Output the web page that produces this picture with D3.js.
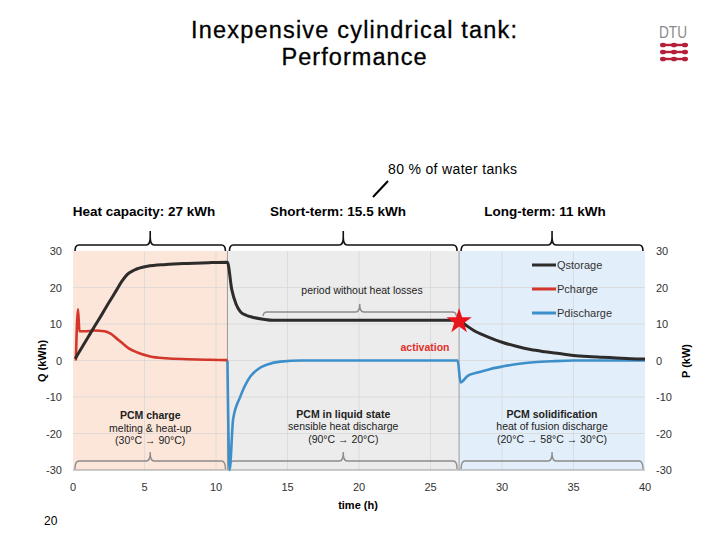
<!DOCTYPE html>
<meta charset="utf-8">
<style>
 body { margin: 0; background: #fff; font-family: 'Liberation Sans', Arial, sans-serif; }
 .tick-label { font-size: 11px; fill: #333; }
</style>
<body>
<script src="https://cdn.jsdelivr.net/npm/d3@7"></script>
<script>

 // data
 var qTime  = [0.15, 0.6, 1, 1.5, 2, 2.5, 3, 3.4, 3.8, 4.3, 5.2, 6.5, 8, 9.5, 10.8, 11.1, 11.4, 11.7, 12.1, 12.6, 13.3, 14, 16, 20, 25, 27, 27.5, 28, 29, 30, 31, 32, 33, 34, 35, 36, 37, 38, 39, 40];
 var qValue = [0.5, 3.4, 6, 9.3, 12.5, 15.8, 19, 21.6, 23.6, 24.8, 25.8, 26.3, 26.6, 26.8, 26.9, 19.5, 15.5, 13.4, 12.4, 11.8, 11.3, 11, 11, 11, 11, 11, 9.6, 8.3, 6.5, 5, 3.9, 3, 2.4, 1.9, 1.4, 1.1, 0.9, 0.7, 0.5, 0.4];

 var cTime  = [0.2, 0.35, 0.45, 0.8, 1.5, 2.2, 2.6, 3.0, 3.4, 3.9, 4.5, 5.4, 6.5, 8, 9.5, 10.8];
 var cValue = [0, 14, 8, 8, 8.2, 8, 7.4, 6.2, 4.9, 3.3, 2.2, 1.1, 0.6, 0.35, 0.2, 0.1];

 var dTime  = [10.8, 10.95, 11.2, 11.7, 12.4, 13, 13.6, 14.5, 16, 26.9, 27.1, 27.6, 28.3, 29.2, 30.1, 31.2, 32.2, 33.5, 35, 40];
 var dValue = [0, -30, -16, -9.9, -4.4, -2.2, -1.1, -0.3, 0, 0, -6, -4.2, -3.3, -2.3, -1.6, -0.9, -0.5, -0.2, 0, 0];

 var phases      = [[0, 10.8], [10.8, 27], [27, 40]];
 var phaseFills  = ["#fce6d9", "#ececec", "#e2eef9"];
 var phaseTitles = ["Heat capacity: 27 kWh", "Short-term: 15.5 kWh", "Long-term: 11 kWh"];
 var phaseNotes  = [
     ["PCM charge", "melting & heat-up", "(30°C \u2192 90°C)"],
     ["PCM in liquid state", "sensible heat discharge", "(90°C \u2192 20°C)"],
     ["PCM solidification", "heat of fusion discharge", "(20°C \u2192 58°C \u2192 30°C)"]
 ];
 var xTicks = [0, 5, 10, 15, 20, 25, 30, 35, 40];
 var yTicks = [-30, -20, -10, 0, 10, 20, 30];
 var seriesNames  = ["Qstorage", "Pcharge", "Pdischarge"];
 var seriesColors = ["#2e2b2b", "#d3362b", "#3d8fcb"];

 var W = 720, H = 540;
 var svg = d3.select("body").append("svg").attr("width", W).attr("height", H);

 var xScale = d3.scaleLinear().domain([0, 40]).range([73, 645]);
 var yScale = d3.scaleLinear().domain([-30, 30]).range([470, 251]);

 // title
 svg.append("text").attr("x", 354).attr("y", 38).attr("text-anchor", "middle")
    .attr("font-size", "23.5px").attr("textLength", 326).attr("lengthAdjust", "spacing")
    .attr("stroke", "#000").attr("stroke-width", 0.3).text("Inexpensive cylindrical tank:");
 svg.append("text").attr("x", 354).attr("y", 65).attr("text-anchor", "middle")
    .attr("font-size", "23.5px").attr("textLength", 145).attr("lengthAdjust", "spacing")
    .attr("stroke", "#000").attr("stroke-width", 0.3).text("Performance");

 // DTU logo
 svg.append("text").attr("x", 673).attr("y", 38).attr("text-anchor", "middle")
    .attr("font-size", "17px").attr("fill", "#8a8a8a").attr("textLength", 28)
    .attr("lengthAdjust", "spacingAndGlyphs").text("DTU");
 [45, 52, 59].forEach(function(y) {
     var g = svg.append("g").attr("fill", "#b51f3a");
     g.append("rect").attr("x", 663).attr("y", y - 1.2).attr("width", 22).attr("height", 2.4);
     [663, 674, 685].forEach(function(cx) {
         g.append("ellipse").attr("cx", cx).attr("cy", y).attr("rx", 3).attr("ry", 2.3);
     });
 });

 // annotation
 svg.append("text").attr("x", 388).attr("y", 174).attr("font-size", "14px")
    .attr("textLength", 129).attr("lengthAdjust", "spacing").text("80 %  of water tanks");
 svg.append("line").attr("x1", 373).attr("y1", 197).attr("x2", 388).attr("y2", 181)
    .attr("stroke", "#000").attr("stroke-width", 2);

 // page number
 svg.append("text").attr("x", 44).attr("y", 525).attr("font-size", "12px").text("20");

 // phase backgrounds
 svg.selectAll(".phase").data(phases).enter().append("rect")
    .attr("x", d => xScale(d[0])).attr("y", yScale(30))
    .attr("width", d => xScale(d[1]) - xScale(d[0]))
    .attr("height", yScale(-30) - yScale(30))
    .attr("fill", (d, i) => phaseFills[i]);

 // gridlines
 var grid = svg.append("g").attr("stroke", "#d8d8d8").attr("stroke-width", 0.8);
 grid.selectAll(".vg").data(xTicks.slice(1, -1)).enter().append("line")
     .attr("x1", d => xScale(d)).attr("x2", d => xScale(d))
     .attr("y1", yScale(30)).attr("y2", yScale(-30));
 grid.selectAll(".hg").data(yTicks.slice(1, -1)).enter().append("line")
     .attr("x1", xScale(0)).attr("x2", xScale(40))
     .attr("y1", d => yScale(d)).attr("y2", d => yScale(d));

 // phase boundaries and axis line
 svg.selectAll(".bound").data([10.8, 27]).enter().append("line")
    .attr("x1", d => xScale(d)).attr("x2", d => xScale(d))
    .attr("y1", yScale(30)).attr("y2", yScale(-30))
    .attr("stroke", "#9a9a9a").attr("stroke-width", 1);
 svg.append("line").attr("x1", xScale(0)).attr("x2", xScale(40))
    .attr("y1", yScale(-30)).attr("y2", yScale(-30))
    .attr("stroke", "#9a9a9a").attr("stroke-width", 1.2);

 // curly brace path: from x0 to x1, base at y, tip towards y + dir*h
 function brace(x0, x1, y, h, dir) {
     var m = (x0 + x1) / 2, r = 4;
     var yb = y + dir * (h - r);
     var yt = y + dir * h;
     return "M" + x0 + "," + y +
            "Q" + x0 + "," + yb + " " + (x0 + r) + "," + yb +
            "L" + (m - r) + "," + yb +
            "Q" + m + "," + yb + " " + m + "," + (yt + dir * r) +
            "Q" + m + "," + yb + " " + (m + r) + "," + yb +
            "L" + (x1 - r) + "," + yb +
            "Q" + x1 + "," + yb + " " + x1 + "," + y;
 }

 // top braces
 svg.selectAll(".topbrace").data(phases).enter().append("path")
    .attr("d", d => brace(xScale(d[0]) + 2, xScale(d[1]) - 2, 251, 10, -1) + "M" + xScale((d[0] + d[1]) / 2) + "," + 241 + "V231")
    .attr("fill", "none").attr("stroke", "#111").attr("stroke-width", 1.6);
 var titleX = [144, 338, 545];
 svg.selectAll(".toptitle").data(phaseTitles).enter().append("text")
    .attr("x", (d, i) => titleX[i])
    .attr("y", 216).attr("text-anchor", "middle")
    .attr("font-size", "13.5px").attr("font-weight", "bold").text(d => d);

 // bottom braces
 svg.selectAll(".botbrace").data(phases).enter().append("path")
    .attr("d", d => brace(xScale(d[0]) + 2, xScale(d[1]) - 2, 469, 12, -1) + "M" + xScale((d[0] + d[1]) / 2) + ",457V452")
    .attr("fill", "none").attr("stroke", "#8c8c8c").attr("stroke-width", 1.4);

 // bottom notes
 phaseNotes.forEach(function(lines, i) {
     var cx = xScale((phases[i][0] + phases[i][1]) / 2);
     var t = svg.append("text").attr("text-anchor", "middle").attr("font-size", "10.5px").attr("fill", "#222");
     lines.forEach(function(s, j) {
         t.append("tspan").attr("x", cx).attr("y", 419 + j * 12.5 - (i > 0 ? 1.5 : 0))
          .attr("font-weight", j === 0 ? "bold" : "normal").text(s);
     });
 });

 // period without heat losses
 svg.append("text").attr("x", 362).attr("y", 294).attr("text-anchor", "middle")
    .attr("font-size", "10.5px").attr("fill", "#222").text("period without heat losses");
 svg.append("path")
    .attr("d", brace(xScale(13.3), xScale(26.8), 316, 8, -1))
    .attr("fill", "none").attr("stroke", "#8c8c8c").attr("stroke-width", 1.4);

 // series
 var line = d3.line().x(d => xScale(d[0])).y(d => yScale(d[1])).curve(d3.curveMonotoneX);
 var series = [
     d3.zip(dTime, dValue),
     d3.zip(cTime, cValue),
     d3.zip(qTime, qValue)
 ];
 var seriesOrder = [2, 1, 0];
 series.forEach(function(pts, k) {
     var idx = seriesOrder[k];
     svg.append("path").datum(pts)
        .attr("d", line)
        .attr("fill", "none").attr("stroke", seriesColors[idx])
        .attr("stroke-width", idx === 0 ? 3 : 2.6)
        .attr("stroke-linejoin", "round");
 });

 // activation star
 var star = d3.symbol().type(d3.symbolStar).size(200);
 svg.append("path").attr("d", star())
    .attr("transform", "translate(" + xScale(27) + "," + (yScale(11) + 1) + ")")
    .attr("fill", "#e8141b");
 svg.append("text").attr("x", 425).attr("y", 351).attr("text-anchor", "middle")
    .attr("font-size", "10.5px").attr("font-weight", "bold").attr("fill", "#e0302a").text("activation");

 // legend
 var legend = svg.append("g");
 seriesNames.forEach(function(name, i) {
     var y = 265 + i * 24;
     legend.append("line").attr("x1", 532).attr("x2", 556).attr("y1", y).attr("y2", y)
           .attr("stroke", seriesColors[i]).attr("stroke-width", 3);
     legend.append("text").attr("x", 557).attr("y", y + 4).attr("font-size", "11px")
           .attr("fill", "#333").text(name);
 });

 // axes labels (ticks)
 svg.selectAll(".yl").data(yTicks).enter().append("text").attr("class", "tick-label")
    .attr("x", 62).attr("y", d => yScale(d) + 4).attr("text-anchor", "end").text(d => d);
 svg.selectAll(".yr").data(yTicks).enter().append("text").attr("class", "tick-label")
    .attr("x", 656).attr("y", d => yScale(d) + 4).attr("text-anchor", "start").text(d => d);
 svg.selectAll(".xl").data(xTicks).enter().append("text").attr("class", "tick-label")
    .attr("x", d => xScale(d)).attr("y", 491).attr("text-anchor", "middle").text(d => d);

 svg.append("text").attr("x", 358).attr("y", 509).attr("text-anchor", "middle")
    .attr("font-size", "11px").attr("font-weight", "bold").text("time (h)");
 svg.append("text").attr("transform", "translate(46,361) rotate(-90)").attr("text-anchor", "middle")
    .attr("font-size", "11px").attr("font-weight", "bold").text("Q (kWh)");
 svg.append("text").attr("transform", "translate(690,361) rotate(-90)").attr("text-anchor", "middle")
    .attr("font-size", "11px").attr("font-weight", "bold").text("P (kW)");

</script>
